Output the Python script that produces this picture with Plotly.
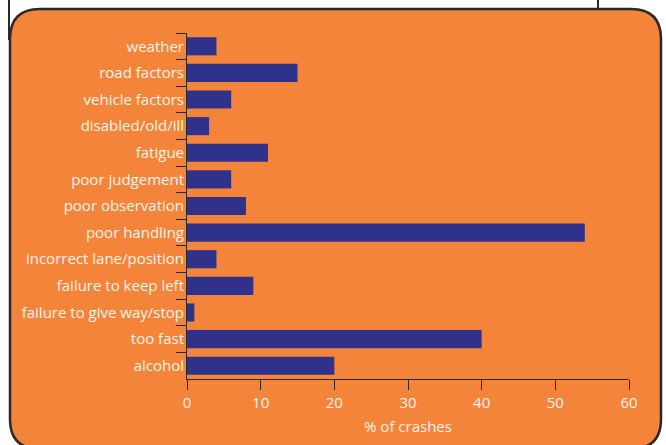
import plotly.graph_objects as go

categories = ["weather", "road factors", "vehicle factors", "disabled/old/ill", "fatigue",
              "poor judgement", "poor observation", "poor handling", "incorrect lane/position",
              "failure to keep left", "failure to give way/stop", "too fast", "alcohol"]
values = [4, 15, 6, 3, 11, 6, 8, 54, 4, 9, 1, 40, 20]
x_ticks = [0, 10, 20, 30, 40, 50, 60]

W, H = 666, 445
ML, MR, MT, MB = 187, 37, 33, 66
PW, PH = W - ML - MR, H - MT - MB

def px(x):
    return (x - ML) / PW

def py(y):
    return (H - MB - y) / PH

def pt(x, y):
    return f"{px(x):.5f},{py(y):.5f}"

# rounded panel path (pixel geometry converted to paper coords)
L, R, T, B, r = 10, 661, 9, 449, 30
path = ("M " + pt(L + r, T) + " L " + pt(R - r, T) + " Q " + pt(R, T) + " " + pt(R, T + r) +
        " L " + pt(R, B - r) + " Q " + pt(R, B) + " " + pt(R - r, B) +
        " L " + pt(L + r, B) + " Q " + pt(L, B) + " " + pt(L, B - r) +
        " L " + pt(L, T + r) + " Q " + pt(L, T) + " " + pt(L + r, T) + " Z")

orange = "#F5843B"
navy = "#30318A"
dark = "#2a2a2a"
txt = "#FFF4EA"
font = "Open Sans"

fig = go.Figure(go.Bar(
    x=values, y=categories, orientation="h",
    marker=dict(color=navy, line=dict(width=0)),
    width=0.68,
))

fig.update_layout(
    width=W, height=H,
    margin=dict(l=ML, r=MR, t=MT, b=MB),
    paper_bgcolor="white",
    plot_bgcolor="rgba(0,0,0,0)",
    showlegend=False,
    font=dict(family=font, color=txt, size=15),
    shapes=[
        dict(type="path", path=path, xref="paper", yref="paper", layer="below",
             fillcolor=orange, line=dict(color=dark, width=2.5)),
        dict(type="line", xref="paper", yref="paper", x0=px(9), x1=px(9), y0=py(0), y1=py(40),
             line=dict(color=dark, width=2), layer="below"),
        dict(type="line", xref="paper", yref="paper", x0=px(598), x1=px(598), y0=py(0), y1=py(9),
             line=dict(color=dark, width=2), layer="below"),
    ],
)

fig.update_xaxes(
    range=[0, 60], tickvals=x_ticks, ticks="outside", ticklen=10, tickcolor=dark,
    showline=True, linecolor=dark, linewidth=1, showgrid=False, zeroline=False,
    tickfont=dict(size=15, color=txt),
    title=dict(text="% of crashes", font=dict(size=15, color=txt), standoff=10),
    fixedrange=True,
)
fig.update_yaxes(
    categoryorder="array", categoryarray=categories, autorange="reversed",
    ticks="outside", ticklen=10, tickcolor=dark, tickson="boundaries",
    showline=True, linecolor=dark, linewidth=1, showgrid=False, zeroline=False,
    tickfont=dict(size=15, color=txt), ticklabelstandoff=-1,
    fixedrange=True,
)

fig.write_html("out.html")
